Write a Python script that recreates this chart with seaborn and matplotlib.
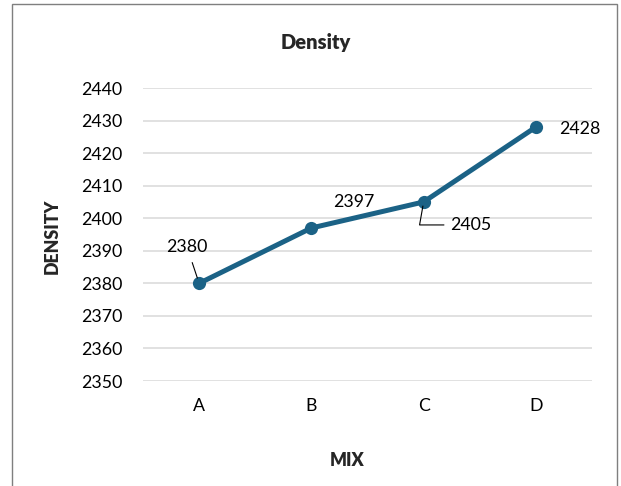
import matplotlib
matplotlib.use("Agg")
import matplotlib.pyplot as plt
import seaborn as sns
import pandas as pd
from matplotlib.patches import Rectangle

mixes = ["A", "B", "C", "D"]
density = [2380, 2397, 2405, 2428]
y_ticks = [2350, 2360, 2370, 2380, 2390, 2400, 2410, 2420, 2430, 2440]

df = pd.DataFrame({"MIX": mixes, "DENSITY": density})

sns.set_theme(style="white")
plt.rcParams["font.family"] = ["Lato", "DejaVu Sans"]

line_color = "#1b6286"
fs = 12.8

fig = plt.figure(figsize=(6.21, 4.86), dpi=100)
ax = fig.add_axes([143 / 621, 1 - 381 / 486, (592 - 143) / 621, (381 - 88) / 486])

sns.lineplot(data=df, x="MIX", y="DENSITY", ax=ax, color=line_color,
             linewidth=3.6, marker="o", markersize=9.5, markeredgewidth=0, zorder=3)

ax.set_xlim(-0.5, 3.5)
ax.set_ylim(y_ticks[0], y_ticks[-1])
ax.set_yticks(y_ticks)
ax.set_yticklabels([str(t) for t in y_ticks])
ax.yaxis.grid(True, color="#d9d9d9", linewidth=1.1)
ax.xaxis.grid(False)
ax.set_axisbelow(True)
for s in ax.spines.values():
    s.set_visible(False)
ax.tick_params(axis="y", length=0, pad=15, labelsize=fs, labelcolor="black")
ax.tick_params(axis="x", length=0, pad=12, labelsize=fs, labelcolor="black")

ax.set_xlabel("MIX", fontsize=fs, fontweight="heavy")
ax.set_ylabel("DENSITY", fontsize=fs, fontweight="heavy")
ax.xaxis.set_label_coords((347 - 143) / 449, (381 - 460) / 293)
ax.yaxis.set_label_coords((52 - 143) / 449, (381 - 236) / 293)
ax.xaxis.label.set_va("center")
ax.yaxis.label.set_va("center")
fig.text(316 / 621, 1 - 42 / 486, "Density", fontsize=14.5, fontweight="heavy",
         ha="center", va="center")

# data labels (offsets in pixels)
offsets = [(-12, 36), (42, 26), (47, -23), (44, -2)]
leaders = [True, False, True, False]
for i, (val, off, lead) in enumerate(zip(density, offsets, leaders)):
    kw = {}
    if lead and i == 0:
        kw["arrowprops"] = dict(arrowstyle="-", color="black", lw=0.8,
                                shrinkA=3, shrinkB=4)
    elif lead:
        kw["arrowprops"] = dict(arrowstyle="-", color="black", lw=0.8,
                                connectionstyle="angle,angleA=0,angleB=80,rad=0",
                                shrinkA=2, shrinkB=3)
    ax.annotate(str(val), xy=(i, val), xytext=off, textcoords="offset pixels",
                ha="center", va="center", fontsize=fs, color="black", **kw)

fig.patches.append(Rectangle((12 / 621, -0.1), (617 - 12) / 621, 1.1 - 4 / 486,
                             transform=fig.transFigure, fill=False,
                             edgecolor="#7f7f7f", linewidth=1.0))

fig.savefig("out.png", dpi=100)
